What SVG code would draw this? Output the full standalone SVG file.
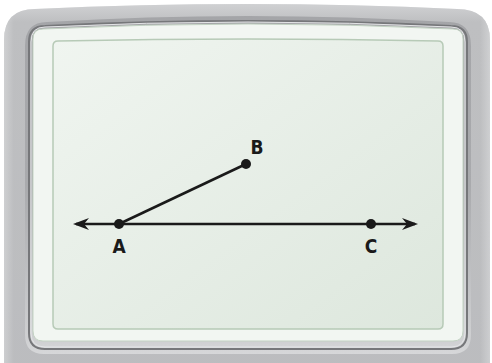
<svg xmlns="http://www.w3.org/2000/svg" width="492" height="363" viewBox="0 0 492 363">
  <defs>
    <linearGradient id="bodyGrad" x1="0" y1="0" x2="0" y2="1">
      <stop offset="0" stop-color="#dcdddf"/>
      <stop offset="0.05" stop-color="#b9babc"/>
      <stop offset="1" stop-color="#b4b5b8"/>
    </linearGradient>
    <linearGradient id="sideGrad" x1="0" y1="0" x2="1" y2="0">
      <stop offset="0" stop-color="#e6e7e8"/>
      <stop offset="0.02" stop-color="#c3c4c6"/>
      <stop offset="0.98" stop-color="#c3c4c6"/>
      <stop offset="1" stop-color="#e6e7e8"/>
    </linearGradient>
    <linearGradient id="ringGrad" x1="0" y1="0" x2="0" y2="1">
      <stop offset="0" stop-color="#a4a5a8"/>
      <stop offset="0.5" stop-color="#a9aaad"/>
      <stop offset="0.96" stop-color="#cfd0d2"/>
      <stop offset="1" stop-color="#d6d7d9"/>
    </linearGradient>
    <linearGradient id="screenGrad" x1="0" y1="0" x2="1" y2="1">
      <stop offset="0" stop-color="#f0f5f0"/>
      <stop offset="1" stop-color="#dde7dd"/>
    </linearGradient>
    <marker id="arrow" viewBox="0 0 16 12" refX="13" refY="6" markerWidth="16" markerHeight="12" markerUnits="userSpaceOnUse" orient="auto-start-reverse">
      <path d="M0,0 L16,6 L0,12 L5,6 Z" fill="#1a1a1a"/>
    </marker>
    <style>
      .lbl { font-family: "DejaVu Sans Condensed", "Liberation Sans Narrow", "Liberation Sans", sans-serif; font-size: 19px; font-weight: bold; fill: #1a1a1a; text-anchor: middle; }
      .ln { stroke: #1a1a1a; stroke-width: 2.5; fill: none; }
      .pt { fill: #1a1a1a; }
    </style>
  </defs>

  <g id="frame">
    <path d="M4,40 Q4,9 35,9 Q248,-1 457,9 Q490,9 490,40 L490,370 L4,370 Z" fill="url(#bodyGrad)"/>
    <path d="M4,40 Q4,9 35,9 Q248,-1 457,9 Q490,9 490,40 L490,370 L4,370 Z" fill="url(#sideGrad)" opacity="0.5"/>
    <path d="M25,46 Q25,22 47,22 Q248,10 449,22 Q471,22 471,46 L471,335 Q471,354 452,354 L44,354 Q25,354 25,335 Z" fill="url(#ringGrad)"/>
    <path d="M29,42 Q29,26 45,26 Q248,16 451,26 Q467,26 467,42 L467,333 Q467,349 451,349 L45,349 Q29,349 29,333 Z" fill="none" stroke="#76777a" stroke-width="2"/>
    <path d="M31,42 Q31,27 45,27 Q248,17 451,27 Q465,27 465,42 L465,333 Q465,347 451,347 L45,347 Q31,347 31,333 Z" fill="none" stroke="#e4e5e7" stroke-width="1"/>
    <path d="M33,39 Q33,29 43,29 Q248,19 453,29 Q463,29 463,39 L463,331 Q463,341 453,341 L43,341 Q33,341 33,331 Z" fill="#f2f6f2" stroke="#c3d3c3" stroke-width="1"/>
    <path d="M53,46 Q53,41 58,41 Q248,37 438,41 Q443,41 443,46 L443,324 Q443,329 438,329 L58,329 Q53,329 53,324 Z" fill="url(#screenGrad)" stroke="#b7cab7" stroke-width="1.5"/>
  </g>

  <g id="connectors">
    <line id="line-AC" class="ln" x1="76" y1="224" x2="415" y2="224" marker-start="url(#arrow)" marker-end="url(#arrow)"/>
    <line id="ray-AB" class="ln" x1="119" y1="224" x2="246" y2="164"/>
  </g>

  <g id="node-A">
    <circle class="pt" cx="119" cy="224" r="5"/>
    <text class="lbl" x="119" y="253">A</text>
  </g>
  <g id="node-B">
    <circle class="pt" cx="246" cy="164" r="5"/>
    <text class="lbl" x="257" y="154">B</text>
  </g>
  <g id="node-C">
    <circle class="pt" cx="371" cy="224" r="5"/>
    <text class="lbl" x="371" y="253">C</text>
  </g>
</svg>
